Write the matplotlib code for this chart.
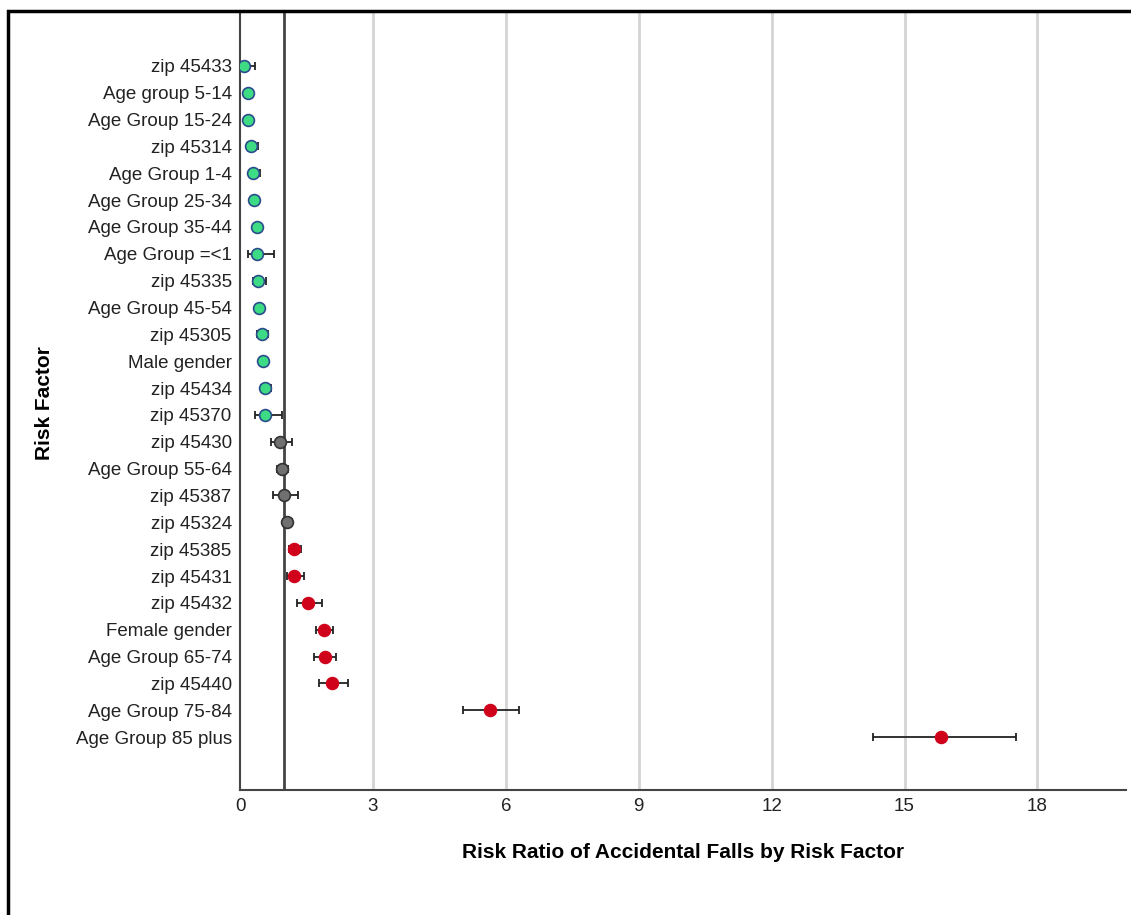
import matplotlib
matplotlib.use("Agg")
import matplotlib.pyplot as plt
from matplotlib.patches import Rectangle

plt.rcParams['font.family'] = ['Liberation Sans', 'DejaVu Sans']

factors = ['zip 45433', 'Age group 5-14', 'Age Group 15-24', 'zip 45314', 'Age Group 1-4',
           'Age Group 25-34', 'Age Group 35-44', 'Age Group =<1', 'zip 45335', 'Age Group 45-54',
           'zip 45305', 'Male gender', 'zip 45434', 'zip 45370', 'zip 45430', 'Age Group 55-64',
           'zip 45387', 'zip 45324', 'zip 45385', 'zip 45431', 'zip 45432', 'Female gender',
           'Age Group 65-74', 'zip 45440', 'Age Group 75-84', 'Age Group 85 plus']
rr = [0.10, 0.19, 0.19, 0.24, 0.30, 0.32, 0.38, 0.39, 0.41, 0.43, 0.49, 0.53, 0.56, 0.56,
      0.90, 0.95, 1.00, 1.05, 1.23, 1.23, 1.53, 1.90, 1.92, 2.08, 5.64, 15.83]
lower = [0.02, 0.18, 0.18, 0.16, 0.22, 0.31, 0.37, 0.19, 0.29, 0.42, 0.38, 0.52, 0.47, 0.34,
         0.71, 0.83, 0.75, 0.96, 1.11, 1.07, 1.28, 1.71, 1.68, 1.79, 5.04, 14.29]
upper = [0.34, 0.20, 0.20, 0.41, 0.45, 0.33, 0.39, 0.77, 0.59, 0.44, 0.64, 0.54, 0.71, 0.94,
         1.17, 1.09, 1.32, 1.17, 1.37, 1.44, 1.84, 2.10, 2.17, 2.43, 6.29, 17.52]
# 0 = lower risk, 1 = not significant, 2 = higher risk
group = [0]*14 + [1]*4 + [2]*8

fills = {0: '#3ddc84', 1: '#707070', 2: '#d0021b'}
edges = {0: '#2b4c8c', 1: '#333333', 2: '#d0021b'}

fig = plt.figure(figsize=(11.31, 9.15), dpi=100)
ax = fig.add_axes([240/1131, 1 - 790/915, (1126-240)/1131, (790-13)/915])

for i in range(len(factors)):
    ax.errorbar(rr[i], i, xerr=[[rr[i] - lower[i]], [upper[i] - rr[i]]], fmt='none',
                ecolor='#222222', elinewidth=1.3, capsize=3, capthick=1.3, zorder=3)
    ax.plot(rr[i], i, 'o', ms=8.5, mfc=fills[group[i]], mec=edges[group[i]], mew=1.2, zorder=4)

ax.axvline(1, color='#444444', lw=2, zorder=2)

ax.set_xlim(0, 20)
ax.set_ylim(26.97, -1.97)
ax.set_xticks([0, 3, 6, 9, 12, 15, 18])
ax.set_yticks(range(len(factors)))
ax.set_yticklabels(factors)
ax.tick_params(axis='both', length=0, labelsize=13.5, colors='#222222')
ax.tick_params(axis='y', pad=6)
ax.tick_params(axis='x', pad=6)
for xv in [3, 6, 9, 12, 15, 18]:
    ax.axvline(xv, color='#d4d4d4', lw=2, zorder=1)

for s in ['top', 'right']:
    ax.spines[s].set_visible(False)
for s in ['left', 'bottom']:
    ax.spines[s].set_color('#444444')
    ax.spines[s].set_linewidth(1.5)

ax.set_xlabel('Risk Ratio of Accidental Falls by Risk Factor', fontsize=15,
              fontweight='bold', labelpad=20)
fig.text(45/1131, 1 - 403/915, 'Risk Factor', rotation=90, fontsize=15, fontweight='bold',
         ha='center', va='center')

fig.patches.append(Rectangle((8/1131, -0.05), 1.1, 1 - 11/915 + 0.05, transform=fig.transFigure,
                             fill=False, edgecolor='black', lw=2.5))

fig.savefig('out.png', dpi=100)
